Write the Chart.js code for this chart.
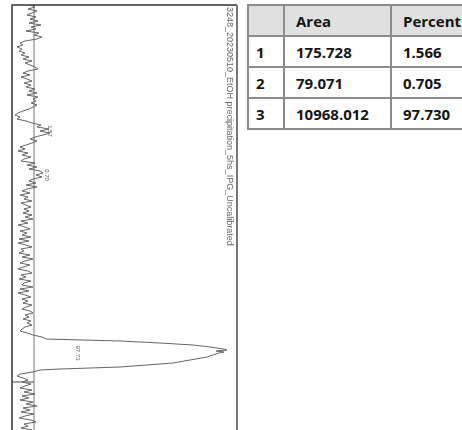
<!DOCTYPE html>
<html>
<head>
<meta charset="utf-8">
<script src="https://cdn.jsdelivr.net/npm/chart.js@4.4.0/dist/chart.umd.min.js"></script>
<style>
  html, body { margin: 0; padding: 0; width: 462px; height: 430px; overflow: hidden; background: #fff; }
  #lane { position: absolute; left: 0; top: 0; width: 240px; height: 430px; }
  table.res { position: absolute; left: 247px; top: 4px; width: 236px; border-collapse: collapse; table-layout: fixed;
    font-family: "Open Sans", sans-serif; font-weight: 700; font-size: 15px; color: #151515; }
  table.res td, table.res th { border: 2px solid #8c8c8c; padding: 0 0 0 11px; text-align: left; white-space: nowrap; }
  table.res th { background: #e0e0e0; font-weight: 700; }
  table.res tr { height: 31px; }
  table.res td:first-child, table.res th:first-child { padding-left: 7px; }
</style>
</head>
<body>
<div id="lane"><canvas id="c" width="240" height="430"></canvas></div>
<table class="res" id="tbl"></table>
<script>
// lane densitometry trace (position along lane, intensity above baseline)
const lanePos = [
  5, 7, 9, 11, 13, 15, 17, 19,
  21, 23, 25, 27, 29, 31, 33, 35, 37,
  39, 41, 43, 45, 47, 49, 51, 53, 55,
  57, 59, 61, 63, 65, 67,
  69, 71, 73, 75, 77, 79, 81, 83, 85,
  87, 89, 91, 93, 95, 97, 99,
  101, 103, 105, 107, 109,
  111, 113, 115, 117, 119, 121,
  123, 125, 127, 129, 131, 133, 135,
  137, 139, 141, 143, 145,
  147, 149, 151, 153, 155, 157, 159,
  161, 163, 165, 167, 169, 171,
  173, 175, 177, 179,
  181, 183, 185, 187, 189,
  191, 193, 195, 197, 199, 201, 203, 205,
  207, 209, 211, 213, 215, 217, 219,
  221, 223, 225, 227, 229, 231, 233, 235, 237, 239,
  241, 243, 245, 247, 249, 251, 253, 255, 257, 259,
  261, 263, 265, 267, 269, 271, 273, 275, 277, 279,
  281, 283, 285, 287, 289, 291, 293, 295, 297, 299,
  301, 303, 305, 307, 309, 311, 313, 315, 317, 319, 321, 323, 325,
  327, 329, 331, 333,
  335, 337, 339, 341, 343, 345, 347, 349, 350, 351, 352, 353, 357, 363, 367, 369, 370, 372,
  374, 376, 378, 380, 382, 384, 386, 388, 390, 392, 394, 396, 398, 400,
  402, 404, 406, 408, 410, 412, 414, 416, 418, 420, 422, 424, 426, 428, 430
];
const laneVal = [
  -3, 1, -6, 3, -2, -7, 2, -4,
  4, -5, 7, -3, 2, -8, 5, 0, 8,
  3, -9, -14, -11, -17, -12, -15, -9, -13,
  -5, -11, -2, -9, -4, 1,
  4, -6, -11, -4, -13, -7, -2, -10, -3,
  -8, 1, -5, 3, -7, 4, -1,
  2, -3, 3, -1, -5,
  -11, -16, -19, -14, -17, -8,
  -2, 7, 3, 15, 6, 16, 9,
  1, -4, 3, -2, -8,
  -14, -9, -16, -6, -12, -3, -10,
  -13, 1, -7, 3, -5, 6,
  9, 2, 8, -1,
  -5, 2, -8, 3, -7,
  -12, -4, -14, -6, -10, -2, -13, -8,
  -3, -10, -5, -11, -2, -9, -1,
  -13, -6, -16, -9, -4, -14, -7, -12, -3, -15,
  -5, -16, -8, -2, -13, -10, -15, -4, -12, -1,
  -9, -14, -4, -11, -16, -6, -2, -13, -8, -15,
  -3, -10, -12, -1, -14, -5, -16, -9, -3, -12,
  -6, -11, -2, -8, -12, -4, -1, -9, -5, -11, -3, -7, -2,
  -9, -12, -14, -7,
  -1, 8, 12, 86, 126, 159, 176, 189, 193, 182, 190, 185, 173, 139, 86, 26, 6, -1,
  -14, -17, -11, -6, -12, -3, -9, -14, -2, -10, 1, -12, -5, -14,
  -1, -8, 3, -11, -4, -13, 0, -9, -15, -3, 2, -10, -6, -13, -2
];

const peakLabels = ['1.57', '0.70', '97.73'];
const peakLabelPos = [131, 175, 353];
const peakLabelVal = [16, 13, 44];
const laneEndPos = 382;
const laneTitle = '3248_20230510_EtOH precipitation_5hs_IPG_Uncalibrated';

const rowIds = ['1', '2', '3'];
const areas = ['175.728', '79.071', '10968.012'];
const percents = ['1.566', '0.705', '97.730'];

// results table
(function buildTable() {
  const t = document.getElementById('tbl');
  let h = '<colgroup><col style="width:36px"><col style="width:107px"><col style="width:93px"></colgroup>';
  h += '<tr><th></th><th>Area</th><th>Percent</th></tr>';
  rowIds.forEach((id, i) => {
    h += '<tr><td>' + id + '</td><td>' + areas[i] + '</td><td>' + percents[i] + '</td></tr>';
  });
  t.innerHTML = h;
})();

const lanePlugin = {
  id: 'laneDecor',
  beforeDatasetsDraw(chart) {
    const { ctx, chartArea: a, scales } = chart;
    const x0 = scales.x.getPixelForValue(0);
    ctx.save();
    // baseline
    ctx.strokeStyle = '#777';
    ctx.lineWidth = 1;
    ctx.beginPath();
    ctx.moveTo(x0, a.top);
    ctx.lineTo(x0, a.bottom);
    ctx.stroke();
    // lane end mark
    const ym = scales.y.getPixelForValue(laneEndPos);
    ctx.strokeStyle = '#444';
    ctx.beginPath();
    ctx.moveTo(a.left, ym);
    ctx.lineTo(x0, ym);
    ctx.stroke();
    ctx.restore();
  },
  afterDatasetsDraw(chart) {
    const { ctx, chartArea: a, scales } = chart;
    ctx.save();
    // frame: top + left dark, right grey
    ctx.strokeStyle = '#333';
    ctx.lineWidth = 1.5;
    ctx.beginPath();
    ctx.moveTo(a.left, a.bottom);
    ctx.lineTo(a.left, a.top);
    ctx.lineTo(a.right, a.top);
    ctx.stroke();
    ctx.strokeStyle = '#777';
    ctx.lineWidth = 2;
    ctx.beginPath();
    ctx.moveTo(a.right, a.top);
    ctx.lineTo(a.right, a.bottom);
    ctx.stroke();

    // peak percentages, rotated
    ctx.fillStyle = '#555';
    ctx.font = '6px "Liberation Sans", sans-serif';
    ctx.textAlign = 'center';
    ctx.textBaseline = 'middle';
    peakLabels.forEach((lb, i) => {
      const px = scales.x.getPixelForValue(peakLabelVal[i]);
      const py = scales.y.getPixelForValue(peakLabelPos[i]);
      ctx.save();
      ctx.translate(px, py);
      ctx.rotate(Math.PI / 2);
      ctx.fillText(lb, 0, 0);
      ctx.restore();
    });

    // lane title along right edge
    ctx.save();
    ctx.fillStyle = '#666';
    ctx.font = '9px "Liberation Sans", sans-serif';
    ctx.textAlign = 'left';
    ctx.textBaseline = 'middle';
    ctx.translate(a.right - 8, a.top + 2);
    ctx.rotate(Math.PI / 2);
    ctx.fillText(laneTitle, 0, 0, 240);
    ctx.restore();
    ctx.restore();
  }
};

new Chart(document.getElementById('c').getContext('2d'), {
  type: 'scatter',
  data: {
    datasets: [{
      data: lanePos.map((p, i) => ({ x: laneVal[i], y: p })),
      showLine: true,
      borderColor: '#666',
      borderWidth: 1,
      pointRadius: 0,
      tension: 0,
    }]
  },
  options: {
    responsive: false,
    animation: false,
    devicePixelRatio: 1,
    layout: { padding: { left: 12, right: 3, top: 5, bottom: 0 } },
    plugins: { legend: { display: false }, tooltip: { enabled: false } },
    scales: {
      x: { display: false, min: -22, max: 203 },
      y: { display: false, min: 5, max: 430, reverse: true },
    },
  },
  plugins: [lanePlugin],
});
</script>
</body>
</html>
